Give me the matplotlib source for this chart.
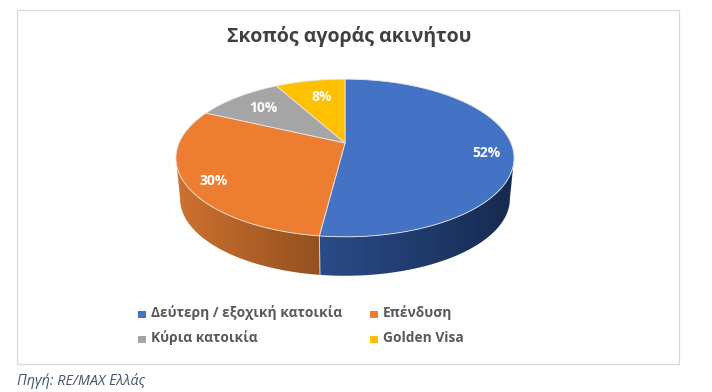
import numpy as np
import matplotlib as mpl
import matplotlib.pyplot as plt
from matplotlib.patches import Polygon, Rectangle
from matplotlib.colors import LinearSegmentedColormap
mpl.use('Agg')

plt.rcParams['font.family'] = ['Open Sans', 'DejaVu Sans']

title = "Σκοπός αγοράς ακινήτου"
source = "Πηγή: RE/MAX Ελλάς"
labels = ["Δεύτερη / εξοχική κατοικία", "Επένδυση", "Κύρια κατοικία", "Golden Visa"]
values = [52, 30, 10, 8]
colours = ["#4472C4", "#ED7D31", "#A5A5A5", "#FFC000"]
# side wall gradient, left to right, only the two front slices show a wall
wall_colours = {0: ["#2B4C8A", "#152A4F"], 1: ["#CE7230", "#93501F"]}

W, H = 712, 392
fig = plt.figure(figsize=(W / 100, H / 100), dpi=100)
ax = fig.add_axes([0, 0, 1, 1])
ax.set_xlim(0, W)
ax.set_ylim(H, 0)
ax.axis('off')

# chart frame
ax.add_patch(Rectangle((17, 10), 662, 354, fc='white', ec='#d9d9d9', lw=0.9))

# pie centre and perspective of the tilted disc
cx, cy, A, B, k = 345, 143, 166, 76, 0.19
low_scale, low_shift = 0.975, 41.3


def rim(a):
    d = 1 + k * np.cos(a)
    return cx + A * np.sin(a) / d, cy - B * np.cos(a) / d


def rim_low(a):
    x, y = rim(a)
    return cx + low_scale * (x - cx), cy + low_scale * (y - cy) + low_shift


# clockwise from 12 o'clock
edges = np.cumsum([0] + values) / sum(values) * 2 * np.pi
# the wall shows between the two widest points of the disc
side_a0 = np.arccos(-k)
side_a1 = 2 * np.pi - side_a0

# side wall
for i in wall_colours:
    a0 = max(edges[i], side_a0)
    a1 = min(edges[i + 1], side_a1)
    t = np.linspace(a0, a1, 150)
    ux, uy = rim(t)
    lx, ly = rim_low(t)
    pts = np.vstack([np.column_stack([ux, uy]), np.column_stack([lx, ly])[::-1]])
    poly = Polygon(pts, fc='none', ec='none', transform=ax.transData)
    ax.add_patch(poly)
    cm = LinearSegmentedColormap.from_list("wall%d" % i, wall_colours[i])
    im = ax.imshow(np.linspace(0, 1, 256).reshape(1, -1), cmap=cm, aspect='auto',
                   extent=(pts[:, 0].min(), pts[:, 0].max(), pts[:, 1].max(), pts[:, 1].min()),
                   zorder=2)
    im.set_clip_path(poly)
ax.set_xlim(0, W)
ax.set_ylim(H, 0)

# thin light seam at the front of the wall
sx, sy = rim(edges[1])
lx, ly = rim_low(edges[1])
ax.plot([sx, lx], [sy, ly], color='#d5d5d5', lw=0.7, zorder=3)

# top faces
for i in range(len(values)):
    t = np.linspace(edges[i], edges[i + 1], 150)
    x, y = rim(t)
    pts = np.vstack([[cx, cy], np.column_stack([x, y])])
    ax.add_patch(Polygon(pts, fc=colours[i], ec='#e8e8e8', lw=0.6, zorder=4))

# value labels
label_xy = [(486, 153), (214, 181), (263, 108), (322, 97)]
for i in range(len(values)):
    ax.text(label_xy[i][0], label_xy[i][1], "%d%%" % values[i], color='white',
            fontsize=10, fontweight='bold', ha='center', va='center', zorder=5)

ax.text(349, 36, title, fontsize=14, fontweight='bold', color='#404040',
        ha='center', va='center')

# legend
legend_xy = [(138, 314), (370, 314), (138, 339), (370, 339)]
for i in range(len(labels)):
    x, y = legend_xy[i]
    ax.add_patch(Rectangle((x, y - 3.5), 8, 7, fc=colours[i], ec='none'))
    ax.text(x + 13, y - 1, labels[i], fontsize=9.9, fontweight='bold', color='#595959',
            ha='left', va='center')

ax.text(17, 381, source, fontsize=10.4, style='italic', color='#44546A',
        ha='left', va='center')

fig.savefig('out.png', dpi=100)
plt.close(fig)
